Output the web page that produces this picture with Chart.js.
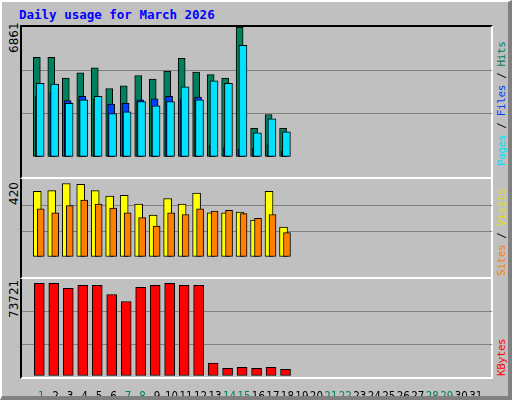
<!DOCTYPE html>
<html><head><meta charset="utf-8">
<script src="https://cdn.jsdelivr.net/npm/chart.js@4"></script>
<style>
body{margin:0;width:512px;height:400px;background:#c0c0c0;overflow:hidden;font-family:"DejaVu Sans Mono",monospace}
#frame{position:absolute;left:0;top:0;border-left:2px solid #fff;border-top:2px solid #fff;border-right:4px solid #808080;border-bottom:4px solid #808080;box-sizing:border-box;width:512px;height:400px}
.box{position:absolute}
.plot{position:absolute;left:20px;width:473px;border-left:2px solid #000;border-top:2px solid #000;border-right:2px solid #fff;box-sizing:border-box}
.rl{position:absolute;transform-origin:0 0;transform:rotate(-90deg);white-space:nowrap;font-size:11px}
#title{position:absolute;left:19px;top:7px;color:#0000ff;font-weight:bold;font-size:12.5px}
</style></head><body>
<div id="frame"></div>
<div id="title">Daily usage for March 2026</div>
<div class="plot" style="top:25px;height:154px;border-bottom:2px solid #fff"></div>
<div class="plot" style="top:179px;height:100px;border-top:none;border-bottom:2px solid #fff"></div>
<div class="plot" style="top:279px;height:100px;border-top:none;border-bottom:2px solid #fff"></div>
<div class="box" style="left:22px;top:27px;width:470px;height:150px"><canvas id="c1"></canvas></div>
<div class="box" style="left:22px;top:180px;width:470px;height:97px"><canvas id="c2"></canvas></div>
<div class="box" style="left:22px;top:280px;width:470px;height:116px"><canvas id="c3"></canvas></div>
<div class="rl" style="left:7px;top:53px;font-family:'DejaVu Sans';font-size:12px">6861</div>
<div class="rl" style="left:7px;top:205px;font-family:'DejaVu Sans';font-size:12px">420</div>
<div class="rl" style="left:7px;top:318px;font-family:'DejaVu Sans';font-size:12px">73721</div>
<div class="rl" style="left:495px;top:166px;letter-spacing:-0.4px"><span style="color:#00e0ff">Pages</span> / <span style="color:#0040ff">Files</span> / <span style="color:#00805c">Hits</span></div>
<div class="rl" style="left:495px;top:276px;letter-spacing:-0.4px"><span style="color:#ff8000">Sites</span> / <span style="color:#e0e000">Visits</span></div>
<div class="rl" style="left:495px;top:376px;letter-spacing:-0.4px"><span style="color:#ff0000">KBytes</span></div>
<script>
const days=[1,2,3,4,5,6,7,8,9,10,11,12,13,14,15,16,17,18];
const hits=[5260,5260,4162,4437,4711,3613,3751,4300,4117,4528,5214,4483,4345,4162,6861,1509,2241,1509];
const files=[3202,3385,2973,3202,3065,2790,2836,3019,3065,3202,3065,3156,640,503,412,457,640,320];
const pages=[3888,3842,2836,3019,3202,2287,2378,2927,2699,2927,3705,3019,4025,3888,5900,1281,2013,1326];
const visits=[358,362,401,397,362,332,336,289,228,319,289,349,241,241,245,202,358,163];
const sites=[263,241,280,310,289,267,241,215,168,241,232,263,250,254,237,211,232,133];
const kbytes=[71160,71160,67280,69600,69600,62620,57190,68050,69600,71160,69600,69600,9860,5980,6750,5980,6750,5200];
const maxes=[6861,420,73721];
const weekend=[1,7,8,14,15,21,22,28,29];

function ds(vals,off,color,w,ord){
  return {data:days.map((d,i)=>({x:d+off,y:vals[i]})),backgroundColor:color,borderColor:'#000',borderWidth:1,barThickness:w,grouped:false,borderSkipped:false,order:ord};
}
function mk(id,sets,max,showX){
  new Chart(document.getElementById(id),{type:'bar',data:{datasets:sets},
  options:{animation:false,responsive:true,maintainAspectRatio:false,
   layout:{padding:0},
   plugins:{legend:{display:false},tooltip:{enabled:false}},
   scales:{
    x:{type:'linear',min:0.2,max:31.6,display:showX,grid:{display:false},border:{display:false},
       afterFit:s=>{s.height=20},
       afterBuildTicks:a=>{a.ticks=[];for(let i=1;i<=31;i++)a.ticks.push({value:i});},
       ticks:{autoSkip:false,maxRotation:0,minRotation:0,padding:6,font:{family:'DejaVu Sans Condensed',size:11.5},
         color:c=>weekend.includes(c.tick.value)?'#00805c':'#000',callback:v=>String(v)}},
    y:{min:0,max:max,border:{display:false},
       afterFit:s=>{s.width=0},
       afterBuildTicks:a=>{a.ticks=[0,1,2,3].map(k=>({value:max*k/3}));},
       ticks:{display:false},
       grid:{drawTicks:false,lineWidth:1,color:c=>(c.index===1||c.index===2)?'#808080':'rgba(0,0,0,0)'}}
   }}});
}
mk('c1',[ds(hits,-0.3,'#00805c',7,3),ds(files,-0.17,'#0040ff',7,2),ds(pages,-0.07,'#00e0ff',8,1)],maxes[0],false);
mk('c2',[ds(visits,-0.27,'#ffff00',8,2),ds(sites,-0.03,'#ff8000',7,1)],maxes[1],false);
mk('c3',[ds(kbytes,-0.13,'#ff0000',10,1)],maxes[2],true);
</script>
</body></html>
